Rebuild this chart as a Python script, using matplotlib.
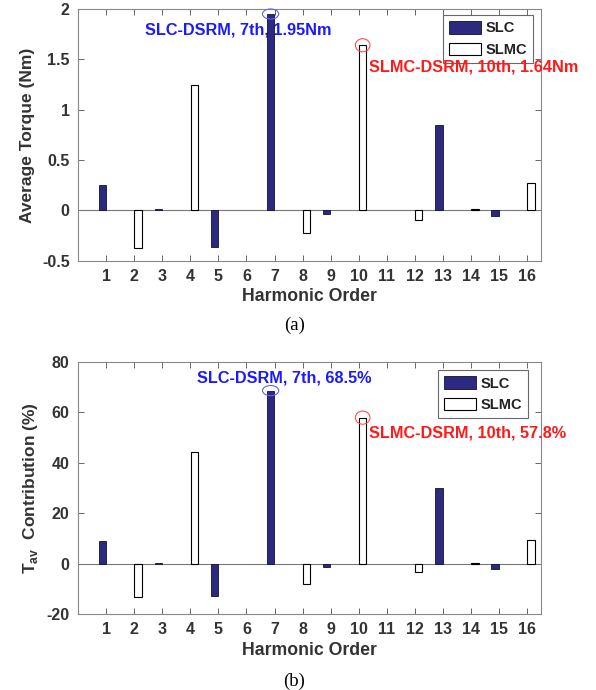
import matplotlib
matplotlib.use("Agg")
import matplotlib.pyplot as plt
import numpy as np
from matplotlib.patches import Ellipse

plt.rcParams['font.family'] = ['Liberation Sans', 'DejaVu Sans']
plt.rcParams['font.weight'] = 'bold'
plt.rcParams['axes.labelweight'] = 'bold'
plt.rcParams['mathtext.fontset'] = 'custom'
plt.rcParams['mathtext.rm'] = 'Liberation Sans:bold'
plt.rcParams['mathtext.bf'] = 'Liberation Sans:bold'

harmonics = np.arange(1, 17)

# average torque per harmonic (Nm)
slc_torque = [0.25, 0, 0.01, 0, -0.36, 0, 1.95, 0, -0.035, 0, 0, 0, 0.85, 0, -0.06, 0]
slmc_torque = [0, -0.37, 0, 1.25, 0, 0, 0, -0.22, 0, 1.64, 0, -0.09, 0, 0.01, 0, 0.27]

# contribution to total average torque (%)
slc_contrib = [9.0, 0, 0.3, 0, -12.8, 0, 68.5, 0, -1.4, 0, 0, 0, 30.0, 0, -2.0, 0]
slmc_contrib = [0, -13.1, 0, 44.2, 0, 0, 0, -8.0, 0, 57.8, 0, -3.2, 0, 0.3, 0, 9.4]

NAVY = '#2b2a80'
GREY = '#333333'
width = 0.26
off = 0.14


def draw_panel(ax, slc, slmc, ylim, yticks, ylabel, ell_h,
               blue_xy, red_xy, blue_txt, red_txt, leg_anchor):
    slc = np.asarray(slc, dtype=float)
    slmc = np.asarray(slmc, dtype=float)
    # zero entries are skipped so they don't leave an edge line on the baseline
    m1 = slc != 0
    m2 = slmc != 0
    ax.bar(harmonics[m1] - off, slc[m1], width, color=NAVY, edgecolor='#111133',
           linewidth=0.6, label='SLC', zorder=3)
    ax.bar(harmonics[m2] + off, slmc[m2], width, color='white', edgecolor='black',
           linewidth=0.8, label='SLMC', zorder=3)
    ax.axhline(0, color='#777777', linewidth=0.8, zorder=2)

    ax.set_xlim(0, 16.5)
    ax.set_ylim(*ylim)
    ax.set_xticks(harmonics)
    ax.set_yticks(yticks)
    ax.set_yticklabels([f'{t:g}' for t in yticks])
    ax.tick_params(direction='in', top=True, right=True, length=4,
                   width=0.7, color='#666666', labelsize=11.5,
                   labelcolor=GREY, pad=6)
    for lab in ax.get_xticklabels() + ax.get_yticklabels():
        lab.set_fontweight('bold')
    for s in ax.spines.values():
        s.set_color('#888888')
        s.set_linewidth(0.8)
    ax.set_xlabel('Harmonic Order', fontsize=12.7, color=GREY, labelpad=3)
    ax.set_ylabel(ylabel, fontsize=12.5, color=GREY, labelpad=5)

    # highlight the dominant harmonic of each machine
    ax.add_patch(Ellipse((7 - off, slc[6]), 0.58, ell_h, fill=False,
                         edgecolor='#6060ff', linewidth=0.8, zorder=4,
                         clip_on=False))
    ax.add_patch(Ellipse((10 + off, slmc[9]), 0.52, ell_h * 1.3, fill=False,
                         edgecolor='#ff5050', linewidth=0.8, zorder=4,
                         clip_on=False))
    ax.text(blue_xy[0], blue_xy[1], blue_txt, color='#1a1aff', fontsize=11.7,
            va='center', ha='left', zorder=1)
    ax.text(red_xy[0], red_xy[1], red_txt, color='#ff1a1a', fontsize=11.7,
            va='center', ha='left', zorder=6, clip_on=False)

    leg = ax.legend(loc='upper right', bbox_to_anchor=leg_anchor,
                    fontsize=10.5, frameon=True, fancybox=False,
                    handlelength=2.2, handleheight=0.95, borderpad=0.4,
                    labelspacing=0.5, handletextpad=0.3, borderaxespad=0)
    leg.set_zorder(5)
    leg.get_frame().set_edgecolor('#444444')
    leg.get_frame().set_linewidth(0.8)
    for t in leg.get_texts():
        t.set_color('#222222')


fig = plt.figure(figsize=(5.96, 6.90), dpi=100)
ax1 = fig.add_axes([0.131, 0.622, 0.777, 0.365])
ax2 = fig.add_axes([0.131, 0.110, 0.777, 0.366])

draw_panel(ax1, slc_torque, slmc_torque, (-0.5, 2), [-0.5, 0, 0.5, 1, 1.5, 2],
           'Average Torque (Nm)', 0.1,
           (2.37, 1.79), (10.36, 1.42),
           'SLC-DSRM, 7th, 1.95Nm', 'SLMC-DSRM, 10th, 1.64Nm',
           (0.982, 0.975))
draw_panel(ax2, slc_contrib, slmc_contrib, (-20, 80), [-20, 0, 20, 40, 60, 80],
           r'T$_{\mathbf{av}}$  Contribution (%)', 4.0,
           (4.25, 73.5), (10.35, 51.7),
           'SLC-DSRM, 7th, 68.5%', 'SLMC-DSRM, 10th, 57.8%',
           (0.972, 0.965))

fig.text(0.494, 0.528, '(a)', family='Liberation Serif', weight='normal',
         fontsize=13.5, ha='center', va='center', color='black')
fig.text(0.494, 0.013, '(b)', family='Liberation Serif', weight='normal',
         fontsize=13.5, ha='center', va='center', color='black')

fig.savefig('out.png', dpi=100)
